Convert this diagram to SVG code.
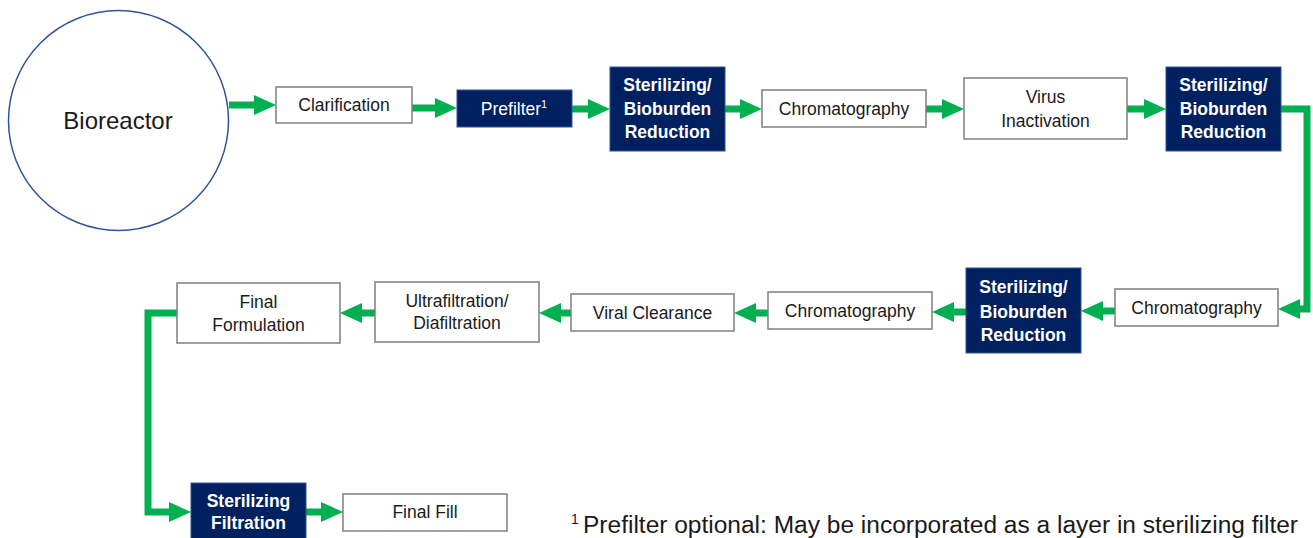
<svg xmlns="http://www.w3.org/2000/svg" width="1313" height="538" viewBox="0 0 1313 538">
<defs>
<style>
.box{fill:#fff;stroke:#7f7f7f;stroke-width:1.5}
.dark{fill:#002060;stroke:#2f5597;stroke-width:1}
.t{font-family:"Liberation Sans",Arial,sans-serif;font-size:17.5px;fill:#1a1a1a;text-anchor:middle}
.w{font-family:"Liberation Sans",Arial,sans-serif;font-size:17.5px;fill:#fff;text-anchor:middle}
.b{font-weight:bold}
.c{fill:none;stroke:#00b050;stroke-width:7;stroke-linejoin:miter}
</style>
<marker id="ah" viewBox="0 0 22 20" markerWidth="22" markerHeight="20" refX="1" refY="10" markerUnits="userSpaceOnUse" orient="auto">
<path d="M0,0 L22,10 L0,20 z" fill="#00b050"/>
</marker>
</defs>

<g id="connectors">
<path class="c" d="M229,105 H255" marker-end="url(#ah)"/>
<path class="c" d="M412,108 H436" marker-end="url(#ah)"/>
<path class="c" d="M572,109 H589" marker-end="url(#ah)"/>
<path class="c" d="M725,109 H741" marker-end="url(#ah)"/>
<path class="c" d="M926,109 H943" marker-end="url(#ah)"/>
<path class="c" d="M1127,109 H1145" marker-end="url(#ah)"/>
<path class="c" d="M1281,109 H1307 V309 H1299" marker-end="url(#ah)"/>
<path class="c" d="M1115,311 H1102" marker-end="url(#ah)"/>
<path class="c" d="M966,312 H953" marker-end="url(#ah)"/>
<path class="c" d="M768,313 H755" marker-end="url(#ah)"/>
<path class="c" d="M571,313 H560" marker-end="url(#ah)"/>
<path class="c" d="M375,313 H361" marker-end="url(#ah)"/>
<path class="c" d="M177,313 H148 V512 H170" marker-end="url(#ah)"/>
<path class="c" d="M306,512 H322" marker-end="url(#ah)"/>
</g>

<g id="bioreactor">
<circle cx="118.5" cy="120.5" r="110" fill="#fff" stroke="#2f5597" stroke-width="1.5"/>
<text x="118" y="129" class="t" style="font-size:24px">Bioreactor</text>
</g>

<g id="clarification">
<rect class="box" x="276" y="87" width="136" height="36"/>
<text x="344" y="111" class="t">Clarification</text>
</g>

<g id="prefilter">
<rect class="dark" x="457" y="90" width="115" height="37"/>
<text x="514" y="115" class="w">Prefilter<tspan dy="-7" style="font-size:11px">1</tspan></text>
</g>

<g id="sterilizing1">
<rect class="dark" x="610" y="67" width="115" height="84"/>
<text class="w b" x="667.5" y="91">Sterilizing/</text>
<text class="w b" x="667.5" y="115">Bioburden</text>
<text class="w b" x="667.5" y="138">Reduction</text>
</g>

<g id="chromatography1">
<rect class="box" x="762" y="90" width="164" height="37"/>
<text x="844" y="115" class="t">Chromatography</text>
</g>

<g id="virus-inactivation">
<rect class="box" x="964" y="78" width="163" height="61"/>
<text x="1045.5" y="103" class="t">Virus</text>
<text x="1045.5" y="127" class="t">Inactivation</text>
</g>

<g id="sterilizing2">
<rect class="dark" x="1166" y="67" width="115" height="84"/>
<text class="w b" x="1223.5" y="91">Sterilizing/</text>
<text class="w b" x="1223.5" y="115">Bioburden</text>
<text class="w b" x="1223.5" y="138">Reduction</text>
</g>

<g id="chromatography2">
<rect class="box" x="1115" y="289" width="163" height="37"/>
<text x="1196.5" y="314" class="t">Chromatography</text>
</g>

<g id="sterilizing3">
<rect class="dark" x="966" y="268" width="115" height="85"/>
<text class="w b" x="1023.5" y="293">Sterilizing/</text>
<text class="w b" x="1023.5" y="318">Bioburden</text>
<text class="w b" x="1023.5" y="341">Reduction</text>
</g>

<g id="chromatography3">
<rect class="box" x="768" y="292" width="164" height="37"/>
<text x="850" y="317" class="t">Chromatography</text>
</g>

<g id="viral-clearance">
<rect class="box" x="571" y="294" width="163" height="37"/>
<text x="652.5" y="319" class="t">Viral Clearance</text>
</g>

<g id="ultrafiltration">
<rect class="box" x="375" y="282" width="164" height="60"/>
<text x="457" y="307" class="t">Ultrafiltration/</text>
<text x="457" y="329" class="t">Diafiltration</text>
</g>

<g id="final-formulation">
<rect class="box" x="177" y="283" width="163" height="60"/>
<text x="258.5" y="308" class="t">Final</text>
<text x="258.5" y="331" class="t">Formulation</text>
</g>

<g id="sterilizing-filtration">
<rect class="dark" x="191" y="483" width="115" height="60"/>
<text class="w b" x="248.5" y="507">Sterilizing</text>
<text class="w b" x="248.5" y="529">Filtration</text>
</g>

<g id="final-fill">
<rect class="box" x="343" y="494" width="164" height="37"/>
<text x="425" y="518" class="t">Final Fill</text>
</g>

<g id="footnote">
<text x="571" y="524" style="font-family:'Liberation Sans',Arial,sans-serif;font-size:14px;fill:#1a1a1a">1</text>
<text x="583" y="533" textLength="715" lengthAdjust="spacingAndGlyphs" style="font-family:'Liberation Sans',Arial,sans-serif;font-size:23px;fill:#1a1a1a">Prefilter optional: May be incorporated as a layer in sterilizing filter</text>
</g>
</svg>
